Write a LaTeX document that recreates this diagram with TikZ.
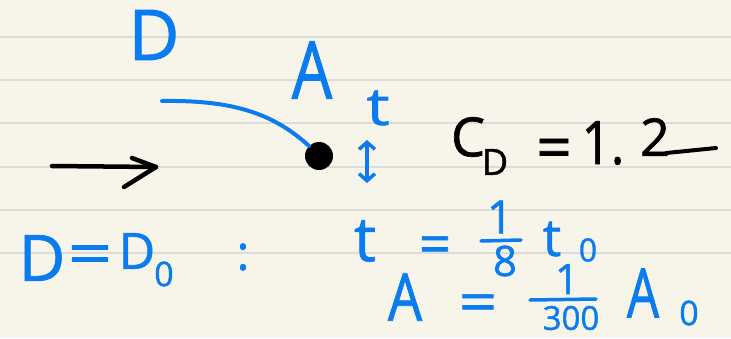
\documentclass[tikz,border=0pt]{standalone}
\usepackage{fontspec}
\setmainfont{Open Sans}
\newfontfamily\markerfont[FakeBold=1.2]{Open Sans}
\usetikzlibrary{arrows.meta,shapes.geometric}
\definecolor{paper}{HTML}{F7F5EA}
\definecolor{rulecol}{HTML}{DCDCDA}
\definecolor{ink}{HTML}{0A7CF0}
\tikzset{
  hand/.style={text=ink, inner sep=0pt, font=\markerfont\fontsize{#1}{#1}\selectfont},
  handk/.style={text=black, inner sep=0pt, font=\markerfont\fontsize{#1}{#1}\selectfont},
  bluestroke/.style={draw=ink, line width=4pt, line cap=round, line join=round},
  blackstroke/.style={draw=black, line width=4.5pt, line cap=round, line join=round},
  ruling/.style={draw=rulecol, line width=1.6pt},
  narrow/.style={transform shape, xscale=#1},
}
\begin{document}
\begin{tikzpicture}[x=1pt,y=-1pt]
  \fill[paper] (0,0) rectangle (731,338);
  \useasboundingbox (0,0) rectangle (731,338);
  % notebook rulings
  \foreach \yy in {37,80,123,167,210,253}
    \draw[ruling] (0,\yy) -- (731,\yy);

  % top labels
  \node[hand=70] (topD) at (154,35) {D};
  \node[hand=80, narrow=0.8] (topA) at (312,70) {A};
  \node[hand=52, narrow=1.25] (tlab) at (378,108) {t};

  % dot and leader curve
  \node[fill=black, ellipse, minimum width=28pt, minimum height=28pt, inner sep=0pt] (dot) at (319,156) {};
  \coordinate (curvestart) at (162,101);
  \draw[bluestroke] (curvestart) .. controls (230,100) and (272,112) .. (dot.north west);

  % thickness double arrow
  \coordinate (dtop) at (367,140);
  \coordinate (dbot) at (367,183);
  \draw[bluestroke, line width=3.5pt, {Straight Barb[length=7pt,width=16pt]}-{Straight Barb[length=7pt,width=16pt]}] (dtop) -- (dbot);

  % flow arrow
  \coordinate (fa) at (52,166);
  \coordinate (fb) at (156,167);
  \coordinate (fh1) at (132,158);
  \coordinate (fh2) at (124,187);
  \draw[blackstroke] (fa) -- (fb);
  \draw[blackstroke] (fh1) -- (fb) -- (fh2);

  % C_D = 1.2
  \node[handk=54] (cC) at (468,137) {C};
  \node[handk=36] (cD) at (495,162) {D};
  \node[handk=62] (ceq) at (554,154) {=};
  \node[handk=60, narrow=0.85] (cone) at (603,143) {1.};
  \node[handk=52] (ctwo) at (655,137) {2};
  \coordinate (tailend) at (716,148);
  \draw[blackstroke, line width=4pt] (ctwo.south east) ++(-4,-3) -- (tailend);

  % D = D_0
  \node[hand=64] (bD) at (42,258) {D};
  \node[hand=60, narrow=1.3] (beq) at (90,260) {=};
  \node[hand=50] (bD2) at (137,251) {D};
  \node[hand=34] (bsub) at (164,274) {0};
  \node[hand=48] (colon) at (243,257) {:};

  % t = 1/8 t_0
  \node[hand=62] (tt) at (365,241) {t};
  \node[hand=56] (teq) at (435,250) {=};
  \node[hand=46] (tnum) at (500,217) {1};
  \coordinate (tbarl) at (481,241);
  \coordinate (tbarr) at (521,240);
  \draw[bluestroke, line width=3.5pt] (tbarl) -- (tbarr);
  \node[hand=42] (tden) at (505,261) {8};
  \node[hand=52] (tt0) at (552,239) {t};
  \node[hand=32] (tsub) at (588,250) {0};

  % A = 1/300 A_0
  \node[hand=66, narrow=0.82] (aA) at (405,297) {A};
  \node[hand=56, narrow=1.2] (aeq) at (478,308) {=};
  \node[hand=42] (anum) at (567,279) {1};
  \coordinate (abarl) at (530,300);
  \coordinate (abarr) at (596,299);
  \draw[bluestroke, line width=3.5pt] (abarl) -- (abarr);
  \node[hand=33] (aden) at (571,318) {300};
  \node[hand=68, narrow=0.75] (aA0) at (643,293) {A};
  \node[hand=34] (asub) at (689,313) {0};
\end{tikzpicture}
\end{document}
